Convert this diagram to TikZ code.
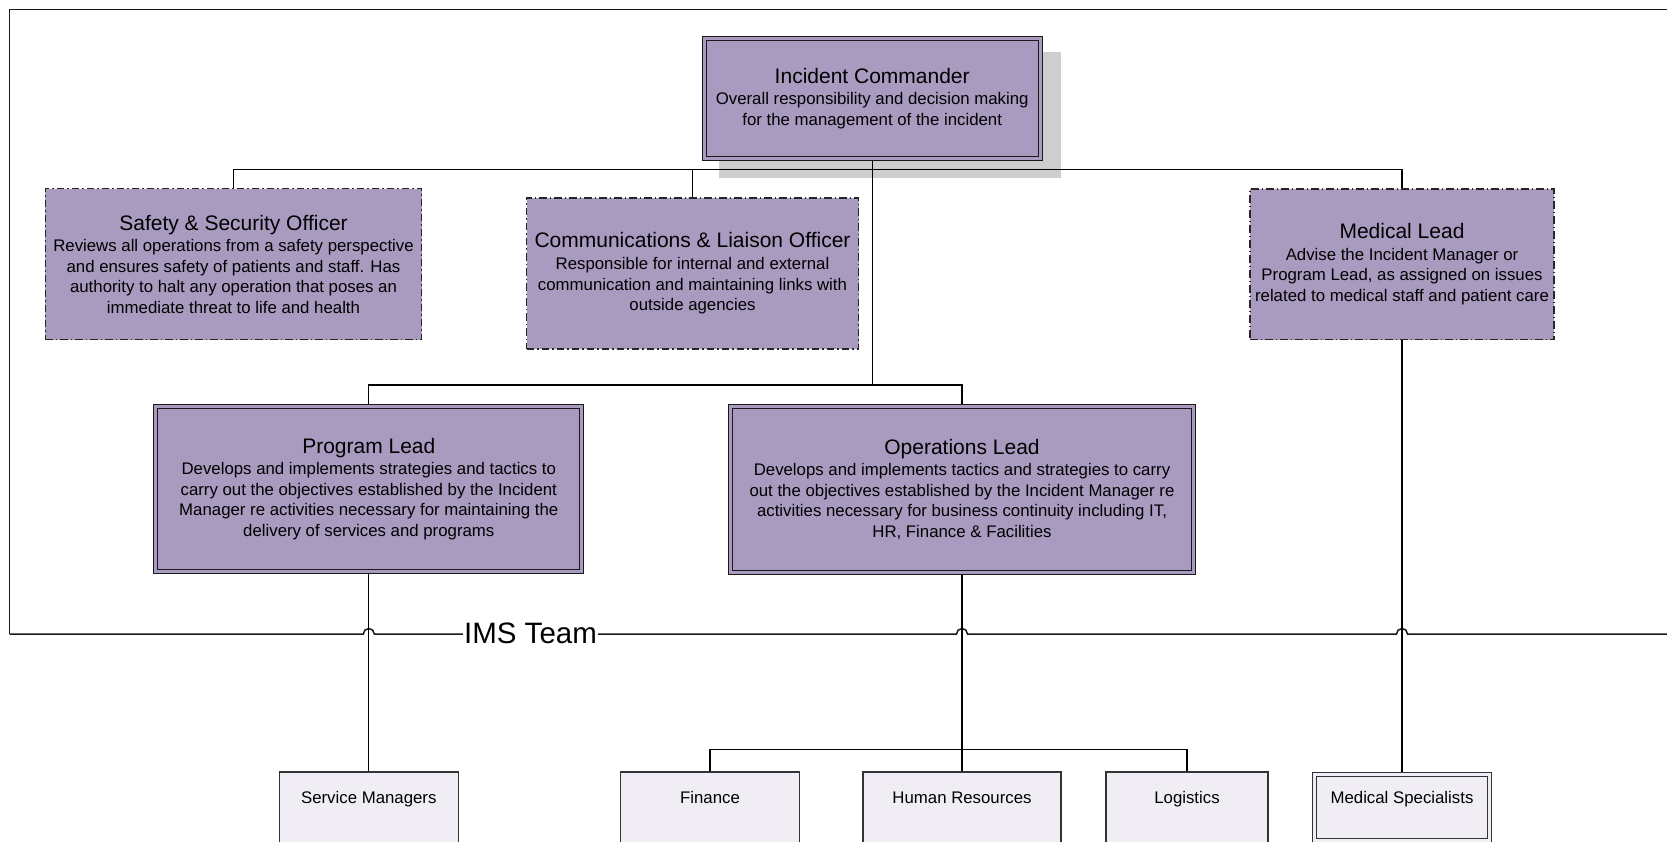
\documentclass[tikz,border=0pt]{standalone}
\usepackage{fontspec}
\setmainfont{Liberation Sans}
\definecolor{lav}{RGB}{169,155,192}
\definecolor{pale}{RGB}{240,238,244}
\definecolor{shadowgray}{RGB}{206,206,206}
\tikzset{
  conn/.style={line width=1.3pt, draw=black},
  frameline/.style={line width=1.5pt, draw=black!90},
  base/.style={rectangle, inner sep=0pt, align=center, text=black,
    font=\fontsize{16.8}{20.6}\selectfont},
  dblbox/.style={base, fill=lav, draw=black!90, line width=1.1pt,
    double=lav, double distance=2.9pt, outer sep=2.5pt},
  dashbox/.style={base, fill=lav, draw=black!85, line width=1.3pt,
    dash pattern=on 7.5pt off 3pt on 1.5pt off 3pt},
  lowbox/.style={base, fill=pale, draw=black!80, line width=1.2pt,
    text height=12pt, text depth=20pt, minimum width=179pt},
  lowdbl/.style={lowbox, line width=1pt, double=pale, double distance=3pt, outer sep=2.5pt},
  imslabel/.style={fill=white, inner xsep=1.5pt, inner ysep=1pt, text=black,
    font=\fontsize{29.5}{32}\selectfont},
}
\newcommand\ttl[1]{{\fontsize{21}{24}\selectfont #1}\\[1pt]}
\begin{document}
\begin{tikzpicture}[x=1pt,y=-1pt]
\useasboundingbox (0,0) rectangle (1667,842);
\clip (0,0) rectangle (1667,842);
% container frame (IMS Team)
\draw[frameline] (1690,9.5) -- (9.7,9.5) -- (9.7,634);
\draw[frameline] (9.7,634) -- (363.3,634) arc[start angle=180,end angle=0,radius=5.5pt]
  -- (956.5,634) arc[start angle=180,end angle=0,radius=5.5pt]
  -- (1396.5,634) arc[start angle=180,end angle=0,radius=5.5pt]
  -- (1690,634);
\node[imslabel] (ims) at (530.5,633.5) {IMS Team};
% shadow of the Incident Commander box
\fill[shadowgray] (719.1,52.5) rectangle (1060.9,178.5);
% nodes
\node[dblbox, minimum width=336.2pt, minimum height=120.4pt] (ic) at (872.2,98.6)
  {\ttl{Incident Commander}Overall responsibility and decision making\\for the management of the incident};
\node[dashbox, minimum width=376.5pt, minimum height=151pt] (so) at (233.5,264.3)
  {\ttl{Safety \& Security Officer}Reviews all operations from a safety perspective\\and ensures safety of patients and staff. Has\\authority to halt any operation that poses an\\immediate threat to life and health};
\node[dashbox, minimum width=332pt, minimum height=151pt] (co) at (692.5,273.5)
  {\ttl{Communications \& Liaison Officer}Responsible for internal and external\\communication and maintaining links with\\outside agencies};
\node[dashbox, minimum width=304pt, minimum height=150.7pt] (ml) at (1402,264.3)
  {\ttl{Medical Lead}Advise the Incident Manager or\\Program Lead, as assigned on issues\\related to medical staff and patient care};
\node[dblbox, minimum width=425.9pt, minimum height=165.5pt] (pl) at (368.8,488.9)
  {\ttl{Program Lead}Develops and implements strategies and tactics to\\carry out the objectives established by the Incident\\Manager re activities necessary for maintaining the\\delivery of services and programs};
\node[dblbox, minimum width=463.3pt, minimum height=165.9pt] (ol) at (962,489.2)
  {\ttl{Operations Lead}Develops and implements tactics and strategies to carry\\out the objectives established by the Incident Manager re\\activities necessary for business continuity including IT,\\HR, Finance \& Facilities};
\node[lowbox, minimum height=71pt] (sm) at (368.8,807.5) {Service Managers};
\node[lowbox, minimum height=71pt] (fi) at (710,807.5) {Finance};
\node[lowbox, minimum width=198pt, minimum height=71pt] (hr) at (962,807.5) {Human Resources};
\node[lowbox, minimum width=162pt, minimum height=71pt] (lo) at (1187,807.5) {Logistics};
\node[lowdbl, minimum width=175.6pt, minimum height=65.2pt] (ms) at (1402,807.4) {Medical Specialists};
% junctions
\coordinate (j1) at (872.2,169.5);
\coordinate (j2) at (872.2,385);
\coordinate (j3) at (962,749.5);
% connectors
\draw[conn] (ic.south) -- (j2);
\draw[conn] (so.north) -- (so.north |- j1) -- (ml.north |- j1) -- (ml.north);
\draw[conn] (co.north) -- (co.north |- j1);
\draw[conn] (pl.north) -- (pl.north |- j2) -- (ol.north |- j2) -- (ol.north);
\draw[conn] (pl.south) -- (sm.north);
\draw[conn] (ol.south) -- (hr.north);
\draw[conn] (fi.north) -- (fi.north |- j3) -- (lo.north |- j3) -- (lo.north);
\draw[conn] (ml.south) -- (ms.north);
\end{tikzpicture}
\end{document}
